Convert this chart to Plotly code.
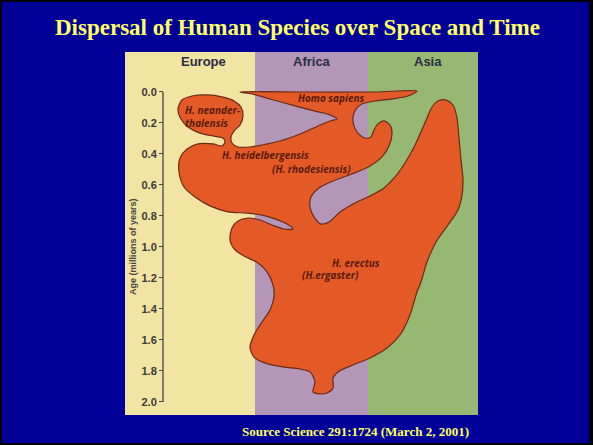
import plotly.graph_objects as go

# ---------------- data ----------------
regions = ["Europe", "Africa", "Asia"]
region_start = [0, 130, 243]      # west-east position units
region_end = [130, 243, 353]
region_colors = ["#F2E4A2", "#B497B8", "#97B873"]
region_label_x = [78, 187, 303]

age_ticks = [0.0, 0.2, 0.4, 0.6, 0.8, 1.0, 1.2, 1.4, 1.6, 1.8, 2.0]
age_tick_labels = ["0.0", "0.2", "0.4", "0.6", "0.8", "1.0", "1.2", "1.4", "1.6", "1.8", "2.0"]

# outline of the species range (position, age in millions of years)
blob_pos = [115, 180, 250, 292, 283, 267, 250, 237, 231, 228, 229, 233, 240, 246, 249, 253, 259, 265,
            267, 264, 257, 245, 227, 208, 194, 186, 185, 189, 196, 204, 215, 230, 245, 259, 270,
            280, 288, 295, 302, 307, 313, 321, 328, 332, 334, 336, 338, 337, 333, 323, 311, 302,
            296, 292, 285, 275, 262, 245, 228, 213, 208, 208, 202, 195, 188, 190, 185, 175, 158,
            140, 129, 125, 129, 137, 145, 149, 148, 142, 133, 121, 110, 105, 107, 113, 123, 135,
            147, 159, 168, 162, 150, 137, 122, 103, 85, 70, 59, 54, 55, 62, 73, 88, 97, 100, 98,
            88, 75, 63, 56, 53, 57, 67, 82, 97, 109, 116, 118, 115, 109, 106, 107, 113, 125, 137,
            155, 175, 193, 205, 212, 205, 190, 170, 145, 127, 115]
blob_age = [0.000, 0.000, 0.000, -0.006, 0.026, 0.045, 0.058, 0.077, 0.110, 0.161, 0.219, 0.265,
            0.297, 0.290, 0.245, 0.206, 0.187, 0.213, 0.271, 0.348, 0.419, 0.477, 0.529, 0.574,
            0.619, 0.677, 0.742, 0.806, 0.852, 0.839, 0.774, 0.716, 0.671, 0.619, 0.548, 0.458,
            0.368, 0.271, 0.168, 0.097, 0.058, 0.052, 0.084, 0.168, 0.297, 0.439, 0.568, 0.665,
            0.761, 0.858, 0.968, 1.097, 1.226, 1.290, 1.439, 1.568, 1.652, 1.716, 1.761, 1.806,
            1.845, 1.910, 1.942, 1.948, 1.935, 1.871, 1.806, 1.787, 1.774, 1.748, 1.710, 1.645,
            1.568, 1.484, 1.406, 1.323, 1.245, 1.161, 1.103, 1.065, 1.019, 0.955, 0.877, 0.832,
            0.813, 0.826, 0.858, 0.884, 0.884, 0.852, 0.819, 0.794, 0.781, 0.774, 0.735, 0.677,
            0.613, 0.516, 0.426, 0.368, 0.335, 0.335, 0.348, 0.323, 0.297, 0.284, 0.265, 0.226,
            0.174, 0.110, 0.052, 0.026, 0.019, 0.032, 0.058, 0.097, 0.155, 0.213, 0.252, 0.290,
            0.329, 0.355, 0.355, 0.342, 0.316, 0.271, 0.219, 0.187, 0.174, 0.148, 0.123, 0.090,
            0.045, 0.013, 0.000]

species_labels = ["H. neander-<br>thalensis", "Homo sapiens", "H. heidelbergensis",
                  "(H. rhodesiensis)", "H. erectus", "(H.ergaster)"]
species_pos = [58, 206, 95, 145, 205, 175]
species_age = [0.155, 0.039, 0.406, 0.497, 1.103, 1.181]
species_anchor = ["left", "center", "left", "left", "left", "left"]

title_text = "Dispersal of Human Species over Space and Time"
source_text = "Source Science 291:1724 (March 2, 2001)"

# ---------------- figure ----------------
W, H = 593, 445
L, R, T, B = 125, 115, 52, 30
pw, ph = W - L - R, H - T - B

def px_x(px):
    return (px - L) / pw

def px_y(py):
    return (H - B - py) / ph

fig = go.Figure()

fig.add_trace(go.Scatter(
    x=blob_pos, y=blob_age, mode="lines",
    line=dict(shape="spline", smoothing=0.8, color="#6A2A18", width=1.2),
    fill="toself", fillcolor="#E35A26", hoverinfo="skip", showlegend=False,
))

shapes = []
# slide background with dark border
shapes.append(dict(type="rect", xref="paper", yref="paper", layer="below",
                   x0=px_x(2), x1=px_x(589), y0=px_y(443), y1=px_y(2),
                   fillcolor="#000099", line=dict(width=0)))
for s, e, c in zip(region_start, region_end, region_colors):
    shapes.append(dict(type="rect", xref="x", yref="paper", layer="below",
                       x0=s, x1=e, y0=0, y1=1, fillcolor=c, line=dict(width=0)))
axis_pos = px_x(163)
shapes.append(dict(type="line", xref="paper", yref="y", x0=axis_pos, x1=axis_pos,
                   y0=age_ticks[0], y1=age_ticks[-1], line=dict(color="#444444", width=1.3)))

annotations = []
for name, x in zip(regions, region_label_x):
    annotations.append(dict(x=x, y=-0.194, xref="x", yref="y", text="<b>%s</b>" % name,
                            showarrow=False, xanchor="center", yanchor="middle",
                            font=dict(family="Liberation Sans, Arial", size=13, color="#2A2A48")))
for t, x, y, a in zip(species_labels, species_pos, species_age, species_anchor):
    annotations.append(dict(x=x, y=y, xref="x", yref="y", text="<i>%s</i>" % t,
                            showarrow=False, xanchor=a, yanchor="middle", align="left",
                            font=dict(family="Open Sans", size=10, color="#5A1A0C", weight="bold")))
annotations.append(dict(x=px_x(133), y=1.0, xref="paper", yref="y",
                        text="<b>Age (millions of years)</b>", textangle=-90, showarrow=False,
                        xanchor="center", yanchor="middle",
                        font=dict(family="Liberation Sans, Arial", size=9, color="#444444")))
annotations.append(dict(x=px_x(297), y=px_y(27), xref="paper", yref="paper",
                        text="<b>%s</b>" % title_text, showarrow=False,
                        xanchor="center", yanchor="middle",
                        font=dict(family="Liberation Serif, Times New Roman", size=23, color="#FFFF66")))
annotations.append(dict(x=px_x(355), y=px_y(432), xref="paper", yref="paper",
                        text="<b>%s</b>" % source_text, showarrow=False,
                        xanchor="center", yanchor="middle",
                        font=dict(family="Liberation Serif, Times New Roman", size=13, color="#FFFF66")))

fig.update_layout(
    width=W, height=H,
    margin=dict(l=L, r=R, t=T, b=B, pad=0),
    paper_bgcolor="#000000",
    plot_bgcolor="rgba(0,0,0,0)",
    shapes=shapes,
    annotations=annotations,
    showlegend=False,
    xaxis=dict(range=[0, 353], visible=False, fixedrange=True),
    yaxis=dict(range=[2.084, -0.258], anchor="free", position=axis_pos,
               tickvals=age_ticks, ticktext=age_tick_labels,
               ticks="outside", ticklen=4, tickwidth=1.2, tickcolor="#444444",
               showgrid=False, zeroline=False, showline=False,
               tickfont=dict(family="Liberation Sans, Arial", size=11, color="#3A3A3A", weight="bold"),
               fixedrange=True),
)

fig.write_html("out.html", config={"displayModeBar": False},
               post_script="document.body.style.margin='0px';document.body.style.overflow='hidden';")
